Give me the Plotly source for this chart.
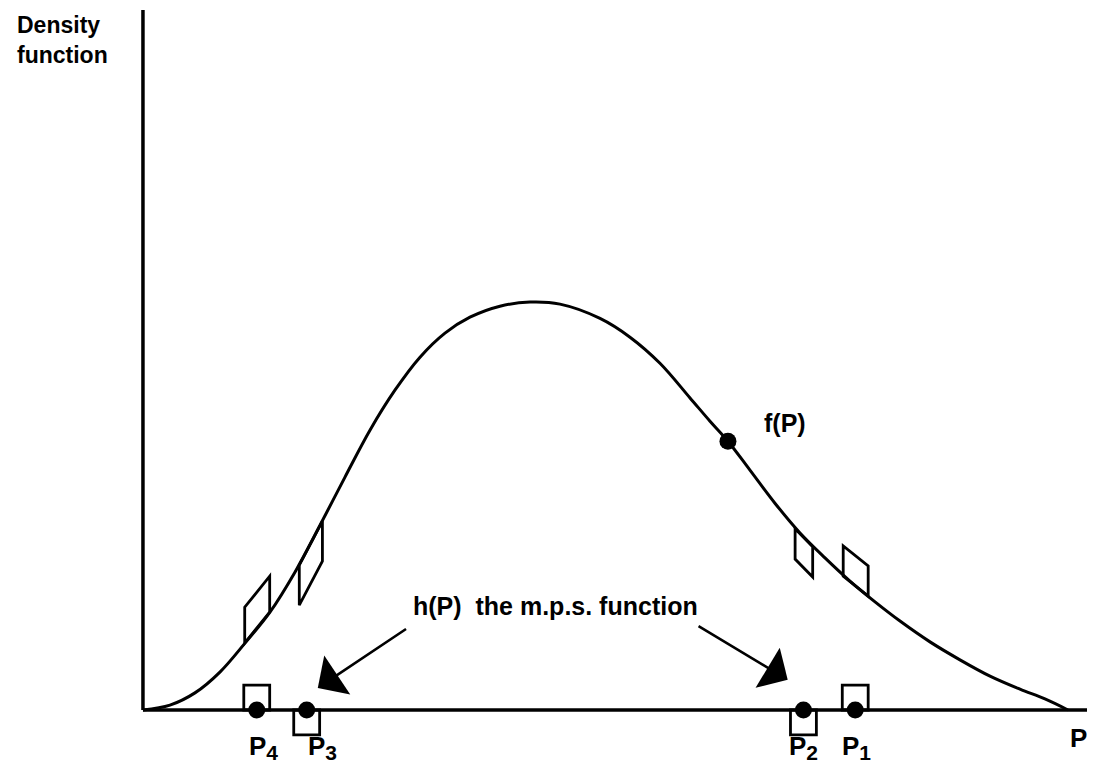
import plotly.graph_objects as go

# density curve f(P) (P in 0..100, density with peak = 1)
curve_p = [0.0, 2.92, 5.62, 8.32, 11.03, 13.73, 16.43, 19.14, 21.84, 24.54, 27.24, 29.95,
           32.65, 35.35, 38.59, 41.84, 45.08, 49.41, 52.65, 55.89, 59.14, 61.30, 63.24,
           65.62, 68.32, 71.03, 73.73, 76.43, 79.14, 81.84, 85.08, 88.32, 91.57, 94.81,
           97.51, 100.0]
curve_f = [0.0, 0.012, 0.042, 0.093, 0.164, 0.240, 0.338, 0.453, 0.571, 0.686, 0.784, 0.865,
           0.924, 0.963, 0.990, 1.0, 0.995, 0.960, 0.914, 0.850, 0.765, 0.708, 0.659,
           0.588, 0.507, 0.434, 0.373, 0.316, 0.265, 0.218, 0.167, 0.123, 0.083, 0.051,
           0.027, 0.0]

# point marked f(P) on the curve
fp_point = (63.24, 0.659)

# sample points on the P axis and the side their little square sits on
sample_sub = ["4", "3", "2", "1"]
sample_p = [12.3, 17.7, 71.4, 77.0]
square_side = ["up", "down", "down", "up"]
label_p = [13.0, 19.4, 71.4, 77.1]

# strips on the curve: x from/to, curve height at both ends, side
strip_x0 = [11.0, 16.9, 70.5, 75.7]
strip_x1 = [13.7, 19.4, 72.4, 78.4]
strip_y0 = [0.164, 0.355, 0.444, 0.328]
strip_y1 = [0.240, 0.463, 0.400, 0.279]
strip_side = ["up", "down", "down", "up"]
strip_h = [0.088, 0.098, 0.074, 0.074]

# page has an 8px body margin, so the figure is 8px smaller and the ranges start there
X_MIN, X_MAX = -14.59, 102.92
Y_MIN, Y_MAX = -0.152, 1.721
FONT = "Liberation Sans"
INK = "black"

fig = go.Figure()

fig.add_trace(go.Scatter(x=curve_p, y=curve_f, mode="lines",
                         line=dict(color=INK, width=3, shape="spline", smoothing=1.0),
                         hoverinfo="skip"))

fig.add_trace(go.Scatter(x=[fp_point[0]] + sample_p, y=[fp_point[1]] + [0] * len(sample_p),
                         mode="markers", marker=dict(color=INK, size=17),
                         hoverinfo="skip"))

shapes = []
# axes
shapes.append(dict(type="line", x0=0, y0=0, x1=0, y1=1.716, line=dict(color=INK, width=3.5)))
shapes.append(dict(type="line", x0=0, y0=0, x1=102.9, y1=0, line=dict(color=INK, width=3.5)))

# open squares at the samples
sq_w, sq_h = 2.8, 0.061
for p, side in zip(sample_p, square_side):
    y0, y1 = (0, sq_h) if side == "up" else (-sq_h, 0)
    shapes.append(dict(type="rect", x0=p - sq_w / 2, x1=p + sq_w / 2, y0=y0, y1=y1,
                       line=dict(color=INK, width=2.8), layer="below"))

# parallelogram strips on the curve
for x0, x1, y0, y1, side, h in zip(strip_x0, strip_x1, strip_y0, strip_y1, strip_side, strip_h):
    d = h if side == "up" else -h
    path = f"M{x0},{y0} L{x1},{y1} L{x1},{y1 + d} L{x0},{y0 + d} Z"
    shapes.append(dict(type="path", path=path, line=dict(color=INK, width=2.8)))

bold = dict(family=FONT, color=INK, weight="bold")
annotations = [
    dict(x=-13.8, y=1.716, text="Density<br>function", showarrow=False,
         xanchor="left", yanchor="top", align="left", font=dict(bold, size=23)),
    dict(x=69.4, y=0.703, text="f(P)", showarrow=False, font=dict(bold, size=25)),
    dict(x=44.6, y=0.255, text="h(P)  the m.p.s. function", showarrow=False,
         font=dict(bold, size=25)),
    dict(x=101.1, y=-0.069, text="P", showarrow=False, font=dict(bold, size=26)),
]
for sub, lp in zip(sample_sub, label_p):
    annotations.append(dict(x=lp, y=-0.093, showarrow=False, font=dict(bold, size=26),
                            text=f"P<sub><span style='font-size:21px'>{sub}</span></sub>"))

# the two arrows pointing at h(P)
for tail, tip in [((28.6, 0.201), (18.9, 0.054)), ((59.9, 0.208), (69.7, 0.074))]:
    annotations.append(dict(x=tip[0], y=tip[1], ax=tail[0], ay=tail[1],
                            xref="x", yref="y", axref="x", ayref="y", text="",
                            showarrow=True, arrowhead=1, arrowsize=3.0, arrowwidth=2.6,
                            arrowcolor=INK))

fig.update_layout(
    width=1087, height=764,
    margin=dict(l=0, r=0, t=0, b=0),
    paper_bgcolor="white", plot_bgcolor="white",
    showlegend=False,
    font=dict(family=FONT, color=INK),
    shapes=shapes, annotations=annotations,
    xaxis=dict(range=[X_MIN, X_MAX], visible=False, fixedrange=True),
    yaxis=dict(range=[Y_MIN, Y_MAX], visible=False, fixedrange=True),
)

fig.write_html("out.html")
